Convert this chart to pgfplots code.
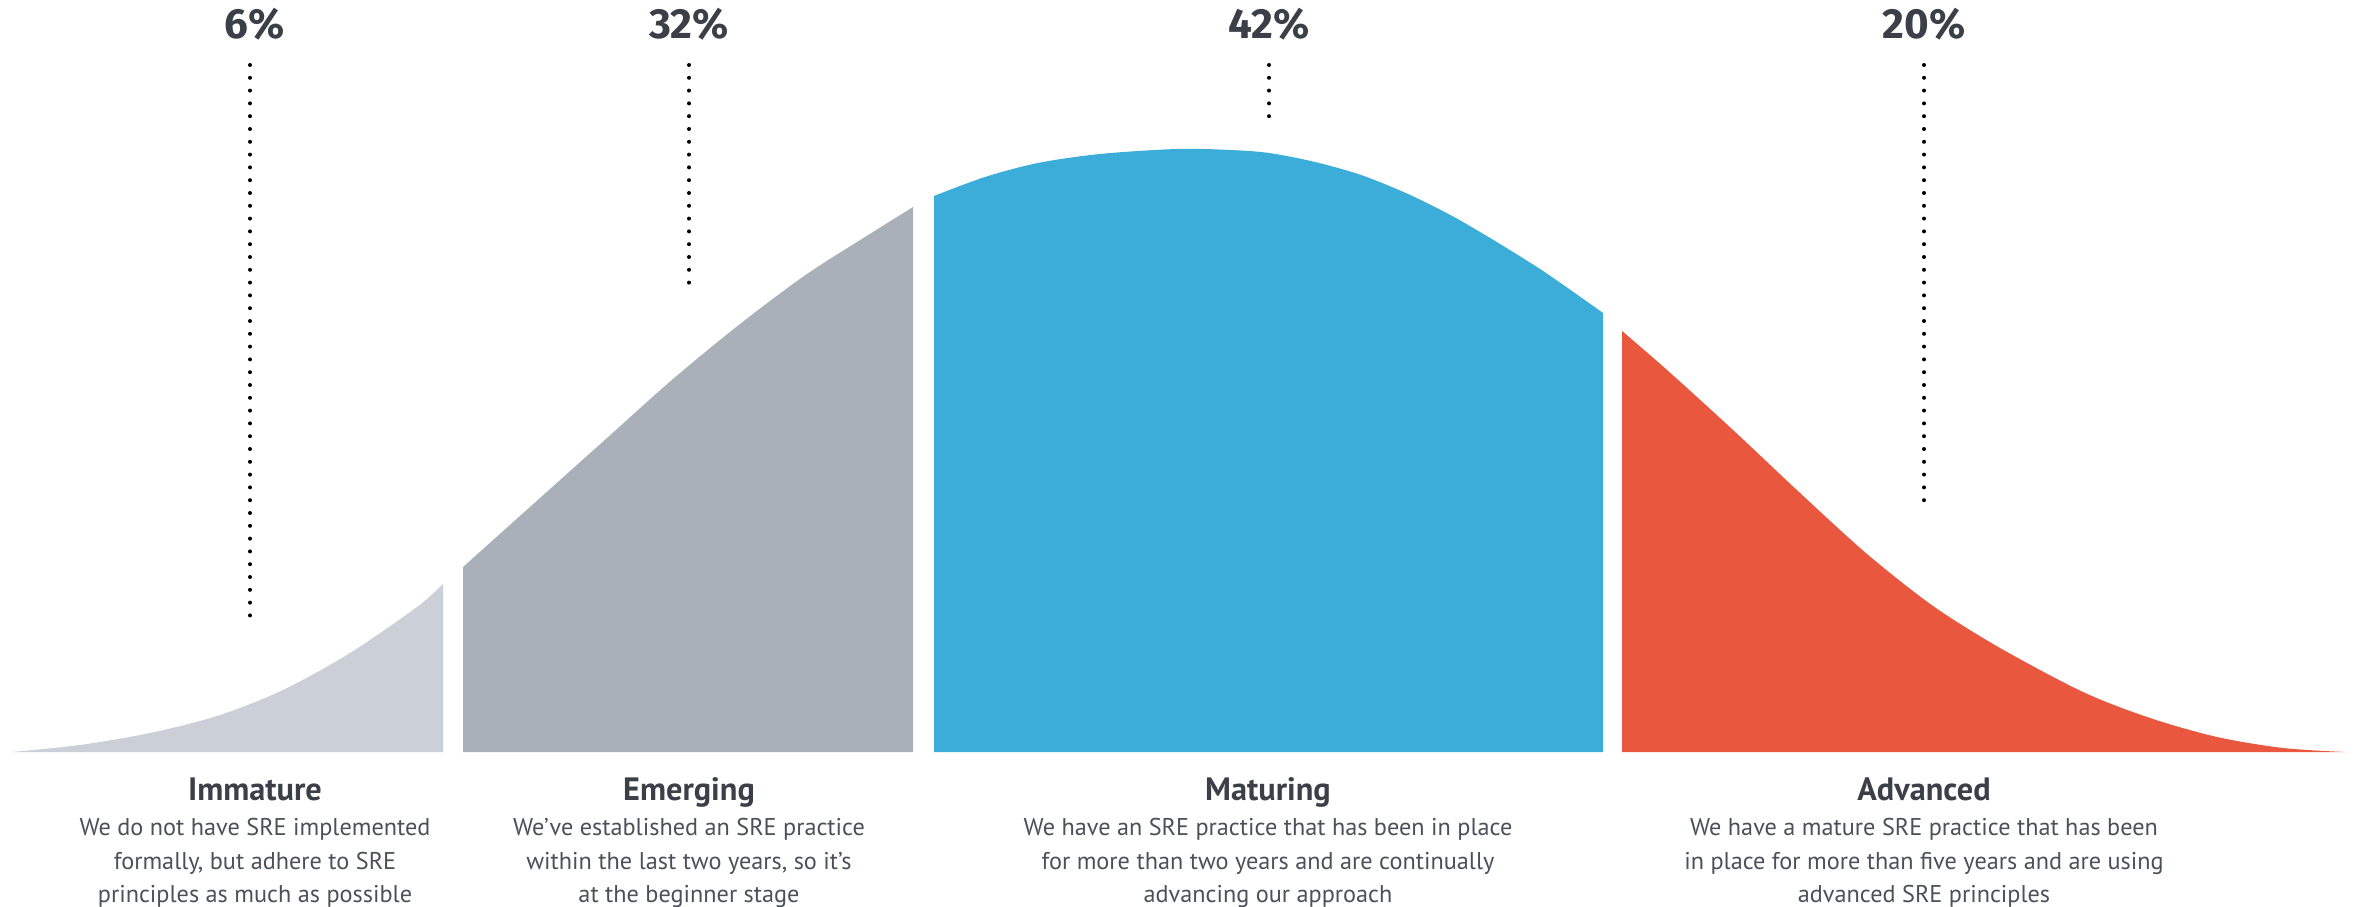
\documentclass[border=0pt]{standalone}
\usepackage{pgfplots}
\pgfplotsset{compat=1.18}
\usepackage{fontspec}
\setmainfont{PT Sans}
\newfontfamily\pctfont{Fira Sans}
\definecolor{cImm}{HTML}{CBCFD8}
\definecolor{cEme}{HTML}{AAB0BA}
\definecolor{cMat}{HTML}{3BADD8}
\definecolor{cAdv}{HTML}{E8573E}
\definecolor{cHead}{HTML}{3A3F48}
\definecolor{cDesc}{HTML}{4B5059}
\tikzset{
  dotline/.style={line width=0.04cm, line cap=round, dash pattern=on 0pt off 0.128cm, black},
  pct/.style={anchor=base, inner sep=0pt, text=cHead, font=\pctfont\fontsize{12}{14}\selectfont\bfseries},
  head/.style={anchor=base, inner sep=0pt, text=cHead, font=\fontsize{9.2}{11}\selectfont\bfseries},
  desc/.style={anchor=base, inner sep=0pt, text=cDesc, font=\fontsize{6.9}{9}\selectfont},
}
\begin{document}
\begin{tikzpicture}
\begin{axis}[
  width=23.59cm, height=9.06cm, scale only axis,
  xmin=0, xmax=2359, ymin=-154, ymax=752,
  axis lines=none, clip=false,
]
% Immature (6%)
\addplot[draw=none, fill=cImm, smooth] coordinates {
  (12,0) (80,7) (150,19) (217,36) (283,62) (350,99) (417,145) (443,168)
} \closedcycle;
% Emerging (32%)
\addplot[draw=none, fill=cEme, smooth] coordinates {
  (463,185) (540,254) (607,314) (673,373) (740,428) (807,478) (873,520) (913,545)
} \closedcycle;
% Maturing (42%)
\addplot[draw=none, fill=cMat, smooth] coordinates {
  (934,556) (985,575) (1038,589) (1100,598) (1177,603) (1230,602) (1269,599)
  (1315,590) (1361,577) (1408,558) (1454,535) (1500,508) (1546,479) (1603,439)
} \closedcycle;
% Advanced (20%)
\addplot[draw=none, fill=cAdv, smooth] coordinates {
  (1622,421) (1667,382) (1733,322) (1800,259) (1867,198) (1933,146) (2000,104)
  (2083,60) (2150,34) (2217,15) (2283,4) (2345,0)
} \closedcycle;

% dotted leaders
\draw[dotline] (axis cs:250,687) -- (axis cs:250,128);
\draw[dotline] (axis cs:689,687) -- (axis cs:689,465);
\draw[dotline] (axis cs:1269,687) -- (axis cs:1269,625);
\draw[dotline] (axis cs:1924,687) -- (axis cs:1924,243);

% percentages
\node[pct] at (axis cs:255,713) {6\%};
\node[pct] at (axis cs:689,713) {32\%};
\node[pct] at (axis cs:1269,713) {42\%};
\node[pct] at (axis cs:1924,713) {20\%};

% headings
\node[head] at (axis cs:255,-48) {Immature};
\node[head] at (axis cs:689,-48) {Emerging};
\node[head] at (axis cs:1268,-48) {Maturing};
\node[head] at (axis cs:1924,-48) {Advanced};

% descriptions
\node[desc] at (axis cs:255,-83) {We do not have SRE implemented};
\node[desc] at (axis cs:255,-117) {formally, but adhere to SRE};
\node[desc] at (axis cs:255,-150) {principles as much as possible};
\node[desc] at (axis cs:689,-83) {We’ve established an SRE practice};
\node[desc] at (axis cs:689,-117) {within the last two years, so it’s};
\node[desc] at (axis cs:689,-150) {at the beginner stage};
\node[desc] at (axis cs:1268,-83) {We have an SRE practice that has been in place};
\node[desc] at (axis cs:1268,-117) {for more than two years and are continually};
\node[desc] at (axis cs:1268,-150) {advancing our approach};
\node[desc] at (axis cs:1924,-83) {We have a mature SRE practice that has been};
\node[desc] at (axis cs:1924,-117) {in place for more than five years and are using};
\node[desc] at (axis cs:1924,-150) {advanced SRE principles};
\end{axis}
\pgfresetboundingbox
\path (current axis.south west) rectangle (current axis.north east);
\end{tikzpicture}
\end{document}
